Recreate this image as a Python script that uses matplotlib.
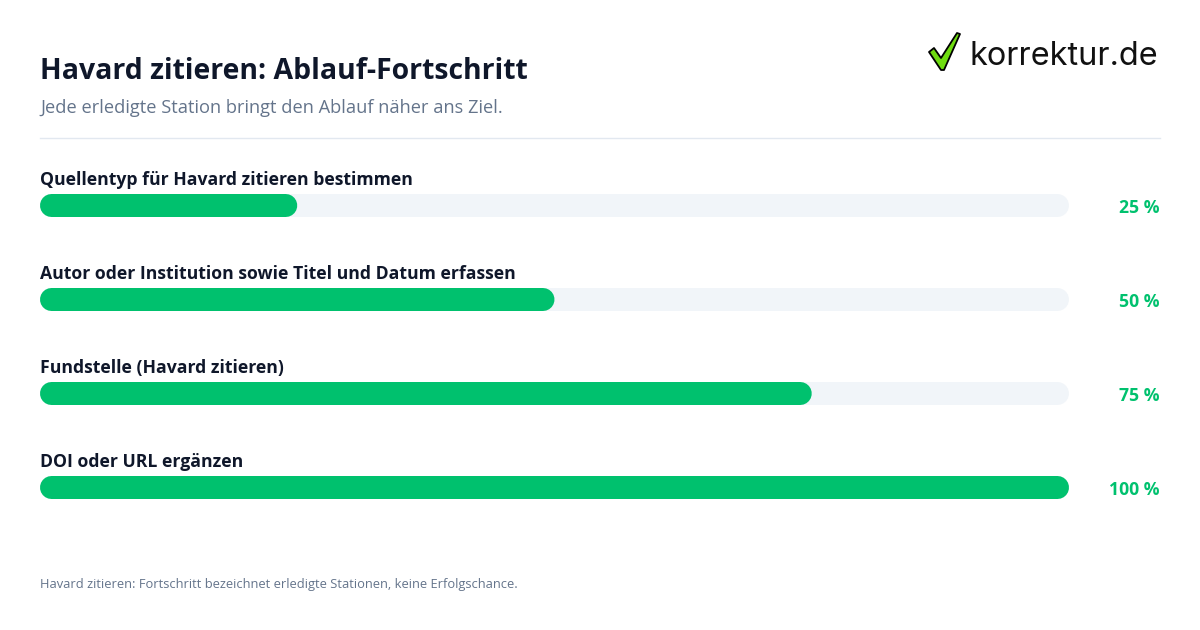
import matplotlib
matplotlib.use('Agg')
import matplotlib.pyplot as plt
from matplotlib.patches import Polygon
from matplotlib.lines import Line2D

plt.rcParams['font.family'] = ['Open Sans', 'DejaVu Sans']

title = 'Havard zitieren: Ablauf-Fortschritt'
subtitle = 'Jede erledigte Station bringt den Ablauf näher ans Ziel.'
footnote = 'Havard zitieren: Fortschritt bezeichnet erledigte Stationen, keine Erfolgschance.'
steps = ['Quellentyp für Havard zitieren bestimmen',
         'Autor oder Institution sowie Titel und Datum erfassen',
         'Fundstelle (Havard zitieren)',
         'DOI oder URL ergänzen']
values = [25, 50, 75, 100]

W, H = 1200, 630
GREEN = '#00c16e'
TRACK = '#f1f5f9'
DARK = '#0f172a'
GREY = '#64748b'


def fx(px):
    return px / W


def fy(py):
    return 1 - py / H


fig = plt.figure(figsize=(12, 6.3), dpi=100, facecolor='white')

# header
fig.text(fx(40), fy(79), title, fontsize=20.45, fontweight='bold', color=DARK)
fig.text(fx(40), fy(113), subtitle, fontsize=13.12, color=GREY)
fig.add_artist(Line2D([fx(40), fx(1160)], [fy(138), fy(138)], color='#e2e8f0', lw=1))
fig.text(fx(40), fy(588), footnote, fontsize=9.3, color=GREY)

# logo
tick = [(929, 52), (934, 48), (941, 58), (957, 33), (960, 34), (944, 70), (941, 70)]
fig.add_artist(Polygon([(fx(x), fy(y)) for x, y in tick], closed=True, transform=fig.transFigure,
                       facecolor='#6fdc10', edgecolor='black', lw=1.3, joinstyle='round'))
fig.text(fx(970), fy(65), 'korrektur.de', fontsize=23.4, color='#111111', family=['Inter', 'DejaVu Sans'])

# bars, one row = 94 px
ax_left, ax_right, ax_top, row_px = 40, 1069, 158.5, 94
ax = fig.add_axes([fx(ax_left), fy(ax_top + row_px * 4), (ax_right - ax_left) / W, row_px * 4 / H])
ax.set_xlim(0, 100)
ax.set_ylim(3.5, -0.5)
ax.axis('off')

x_unit = (ax_right - ax_left) / 100
r_x = 11.5 / x_unit
bar_lw = 23 * 72 / 100

for i, (step, val) in enumerate(zip(steps, values)):
    ax.plot([r_x, 100 - r_x], [i, i], color=TRACK, lw=bar_lw, solid_capstyle='round', zorder=1, snap=False)
    ax.plot([r_x, val - r_x], [i, i], color=GREEN, lw=bar_lw, solid_capstyle='round', zorder=2, snap=False)
    ax.text(0, i - 20.5 / row_px, step, fontsize=12.72, fontweight='bold', color=DARK,
            va='baseline', clip_on=False)
    ax.text((1159 - ax_left) / x_unit, i + 7.5 / row_px, f'{val} %', fontsize=12.68, fontweight='bold',
            color=GREEN, ha='right', va='baseline', clip_on=False)

fig.savefig('out.png', dpi=100, facecolor='white')
